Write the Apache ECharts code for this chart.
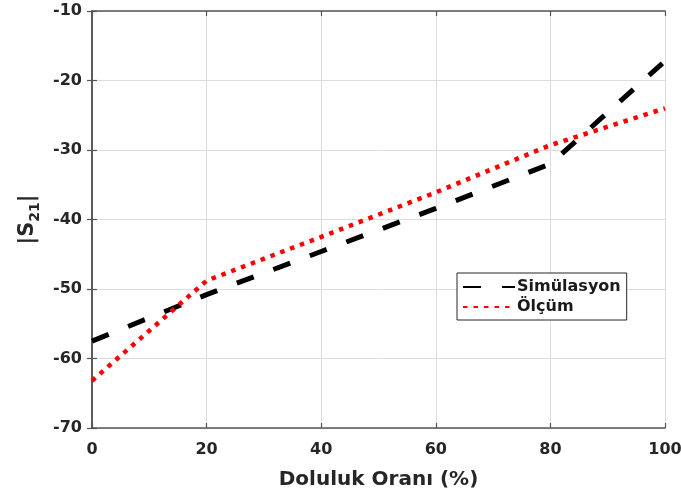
<!DOCTYPE html>
<html>
<head>
<meta charset="utf-8">
<script src="https://cdn.jsdelivr.net/npm/echarts@6/dist/echarts.min.js"></script>
<style>
  html, body { margin: 0; padding: 0; background: #fff; }
  #chart { width: 681px; height: 495px; }
</style>
</head>
<body>
<div id="chart"></div>
<script>
// doluluk orani (%) - x values
var simX = [0, 20, 40, 60, 80, 100];
var simY = [-57.5, -50.8, -44.6, -38.4, -32.0, -17.2];
var measX = [0, 20, 40, 60, 80, 100];
var measY = [-63.2, -48.8, -42.5, -36.1, -29.3, -24.0];
var xTicks = [0, 20, 40, 60, 80, 100];
var yTicks = [-70, -60, -50, -40, -30, -20, -10];

function pairs(xs, ys) {
	return xs.map(function(x, i) { return [x, ys[i]]; });
}

var voChart = echarts.init(document.getElementById("chart"));

var FONT = "DejaVu Sans";
var TXT = "#262626";
var AXC = "#555555";

var voOption = {
	animation: false,
	grid: { left: 92, right: 16, top: 11, bottom: 67, containLabel: false, outerBoundsMode: "none" },
	legend: {
		left: 457,
		top: 273,
		orient: "vertical",
		backgroundColor: "#fff",
		borderColor: TXT,
		borderWidth: 1,
		borderRadius: 0,
		padding: [6, 6, 5, 5],
		itemGap: 4,
		itemWidth: 52,
		itemHeight: 16,
		itemStyle: { opacity: 0 },
		textStyle: { fontFamily: FONT, fontWeight: "bold", fontSize: 16, color: "#1a1a1a", padding: [0, 0, 0, -3] },
		data: ["Simülasyon", "Ölçüm"]
	},
	xAxis: [{
		type: "value",
		min: xTicks[0],
		max: xTicks[xTicks.length - 1],
		interval: 20,
		name: "Doluluk Oranı (%)",
		nameLocation: "middle",
		nameGap: 42,
		nameTextStyle: { fontFamily: FONT, fontWeight: "bold", fontSize: 20, color: TXT },
		axisLine: { show: true, lineStyle: { color: AXC, width: 1.5 } },
		axisTick: { show: true, inside: true, length: 5, lineStyle: { color: AXC, width: 1.2 } },
		axisLabel: { fontFamily: FONT, fontWeight: "bold", fontSize: 16, color: TXT, margin: 14 },
		splitLine: { show: true, lineStyle: { color: "#dcdcdc", width: 1 } }
	}, {
		type: "value",
		position: "top",
		min: xTicks[0],
		max: xTicks[xTicks.length - 1],
		interval: 20,
		axisLine: { show: true, lineStyle: { color: AXC, width: 1.5 } },
		axisTick: { show: true, inside: true, length: 5, lineStyle: { color: AXC, width: 1.2 } },
		axisLabel: { show: false },
		splitLine: { show: false }
	}],
	yAxis: [{
		type: "value",
		min: yTicks[0],
		max: yTicks[yTicks.length - 1],
		interval: 10,
		name: "{a||S}{b|21}{a||}",
		nameLocation: "middle",
		nameGap: 50,
		nameRotate: 90,
		nameTextStyle: {
			rich: {
				a: { fontFamily: FONT, fontWeight: "bold", fontSize: 21, color: TXT },
				b: { fontFamily: FONT, fontWeight: "bold", fontSize: 14, color: TXT, verticalAlign: "top", padding: [14, 0, 0, 0] }
			}
		},
		axisLine: { show: true, lineStyle: { color: AXC, width: 1.5 } },
		axisTick: { show: true, inside: true, length: 5, lineStyle: { color: AXC, width: 1.2 } },
		axisLabel: { fontFamily: FONT, fontWeight: "bold", fontSize: 16, color: TXT, margin: 10 },
		splitLine: { show: true, lineStyle: { color: "#dcdcdc", width: 1 } }
	}, {
		type: "value",
		position: "right",
		min: yTicks[0],
		max: yTicks[yTicks.length - 1],
		interval: 10,
		axisLine: { show: true, lineStyle: { color: AXC, width: 1.5 } },
		axisTick: { show: true, inside: true, length: 5, lineStyle: { color: AXC, width: 1.2 } },
		axisLabel: { show: false },
		splitLine: { show: false }
	}],
	series: [{
		name: "Simülasyon",
		type: "line",
		symbol: "none",
		data: pairs(simX, simY),
		itemStyle: { color: "#000" },
		lineStyle: { color: "#000", width: 5, type: [18, 21], cap: "butt" }
	}, {
		name: "Ölçüm",
		type: "line",
		symbol: "none",
		data: pairs(measX, measY),
		itemStyle: { color: "#ff0000" },
		lineStyle: { color: "#ff0000", width: 4.5, type: [4.5, 6], cap: "butt" }
	}]
};

voChart.setOption(voOption);
</script>
</body>
</html>
